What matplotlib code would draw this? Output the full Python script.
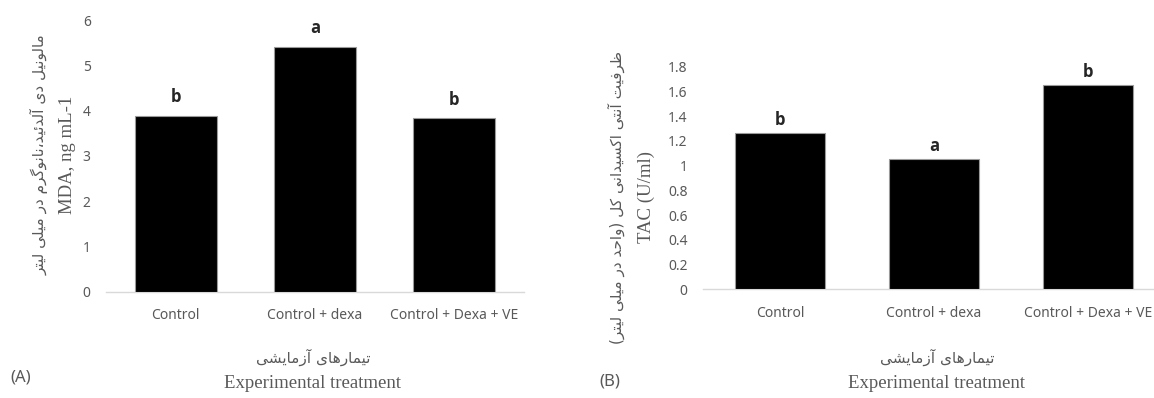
import matplotlib
matplotlib.use("Agg")
import matplotlib.pyplot as plt

# data
categories = ["Control", "Control + dexa", "Control + Dexa + VE"]
mda_values = [3.88, 5.41, 3.83]
mda_letters = ["b", "a", "b"]
tac_values = [1.26, 1.05, 1.65]
tac_letters = ["b", "a", "b"]
mda_ticks = [0, 1, 2, 3, 4, 5, 6]
tac_ticks = [0, 0.2, 0.4, 0.6, 0.8, 1.0, 1.2, 1.4, 1.6, 1.8]
tac_tick_labels = ["0", "0.2", "0.4", "0.6", "0.8", "1", "1.2", "1.4", "1.6", "1.8"]

mda_label_fa = "مالونیل دی آلدئید،نانوگرم در میلی لیتر"
mda_label_en = "MDA, ng mL-1"
tac_label_fa = "ظرفیت آنتی اکسیدانی کل (واحد در میلی لیتر)"
tac_label_en = "TAC (U/ml)"
xlabel_fa = "تیمارهای آزمایشی"
xlabel_en = "Experimental treatment"

GRAY = "#595959"
W, H = 1154, 398

# matplotlib has no arabic shaping, so pick the contextual forms by hand
QUAD = {"ب": 0xFE8F, "ت": 0xFE95, "ث": 0xFE99, "ج": 0xFE9D, "ح": 0xFEA1, "خ": 0xFEA5,
        "س": 0xFEB1, "ش": 0xFEB5, "ص": 0xFEB9, "ض": 0xFEBD, "ط": 0xFEC1, "ظ": 0xFEC5,
        "ع": 0xFEC9, "غ": 0xFECD, "ف": 0xFED1, "ق": 0xFED5, "ل": 0xFEDD, "م": 0xFEE1,
        "ن": 0xFEE5, "ه": 0xFEE9, "ئ": 0xFE89, "ی": 0xFBFC, "ک": 0xFB8E, "گ": 0xFB92,
        "پ": 0xFB56, "چ": 0xFB7A}
DUO = {"ا": 0xFE8D, "آ": 0xFE81, "د": 0xFEA9, "ذ": 0xFEAB, "ر": 0xFEAD, "ز": 0xFEAF,
       "و": 0xFEED, "ژ": 0xFB8A}


def shape_fa(text):
    out = []
    for i, ch in enumerate(text):
        if ch not in QUAD and ch not in DUO:
            out.append(ch)
            continue
        prev = text[i - 1] if i > 0 else ""
        nxt = text[i + 1] if i + 1 < len(text) else ""
        from_prev = prev in QUAD
        to_next = ch in QUAD and (nxt in QUAD or nxt in DUO)
        base = QUAD.get(ch, DUO.get(ch))
        if from_prev and to_next:
            out.append(chr(base + 3))
        elif from_prev:
            out.append(chr(base + 1))
        elif to_next:
            out.append(chr(base + 2))
        else:
            out.append(chr(base))
    vis = "".join(out)[::-1]
    return vis.translate(str.maketrans("()", ")("))


def px(x, y):
    return x / W, 1 - y / H


def draw_panel(rect, values, letters, ticks, tick_labels, ylim, letter_pad):
    ax = fig.add_axes(rect)
    xs = range(len(categories))
    ax.bar(xs, values, width=0.59, color="black", edgecolor="#9a9a9a", linewidth=0.8, zorder=3)
    for x, v, t in zip(xs, values, letters):
        ax.annotate(t, (x, v), xytext=(0, letter_pad), textcoords="offset points",
                    ha="center", va="bottom", fontsize=12, fontweight="bold",
                    family="Open Sans", color="#262626", annotation_clip=False)
    ax.set_xlim(-0.5, len(categories) - 0.5)
    ax.set_ylim(*ylim)
    ax.set_xticks(list(xs))
    ax.set_xticklabels(categories, family="Noto Sans", fontsize=10, color=GRAY)
    ax.set_yticks(ticks)
    ax.set_yticklabels(tick_labels, family="Noto Sans", fontsize=10, color=GRAY)
    ax.tick_params(length=0)
    ax.tick_params(axis="x", pad=12)
    ax.tick_params(axis="y", pad=11)
    for s in ["top", "right", "left"]:
        ax.spines[s].set_visible(False)
    ax.spines["bottom"].set_color("#d9d9d9")
    ax.spines["bottom"].set_linewidth(1)
    return ax


fig = plt.figure(figsize=(W / 100, H / 100), dpi=100)

# panel A
draw_panel([106 / W, (H - 291.7) / H, 418 / W, 271.7 / H], mda_values, mda_letters,
           mda_ticks, [str(t) for t in mda_ticks], (0, 6), 7)
# panel B (runs off the right edge like the original)
draw_panel([703 / W, (H - 289.3) / H, 462 / W, 222.6 / H], tac_values, tac_letters,
           tac_ticks, tac_tick_labels, (0, 1.8), 3)

fa_font = dict(family="DejaVu Sans", fontsize=11, color=GRAY)
en_font = dict(family="Liberation Serif", fontsize=13.5, color=GRAY)

# y axis titles
fig.text(*px(40, 155), shape_fa(mda_label_fa), rotation=90, ha="center", va="center", **fa_font)
fig.text(*px(67, 155), mda_label_en, rotation=90, ha="center", va="center", **en_font)
fig.text(*px(616, 197), shape_fa(tac_label_fa), rotation=90, ha="center", va="center", **fa_font)
fig.text(*px(646, 197), tac_label_en, rotation=90, ha="center", va="center", **en_font)

# x axis titles
for cx in [313, 937]:
    fig.text(*px(cx, 357), shape_fa(xlabel_fa), ha="center", va="center", **fa_font)
    fig.text(*px(cx, 384), xlabel_en, ha="center", va="center", **en_font)

fig.text(*px(21, 377), "(A)", ha="center", va="center", family="Noto Sans", fontsize=12, color=GRAY)
fig.text(*px(610, 381), "(B)", ha="center", va="center", family="Noto Sans", fontsize=12, color=GRAY)

fig.savefig("out.png", dpi=100, facecolor="white")
